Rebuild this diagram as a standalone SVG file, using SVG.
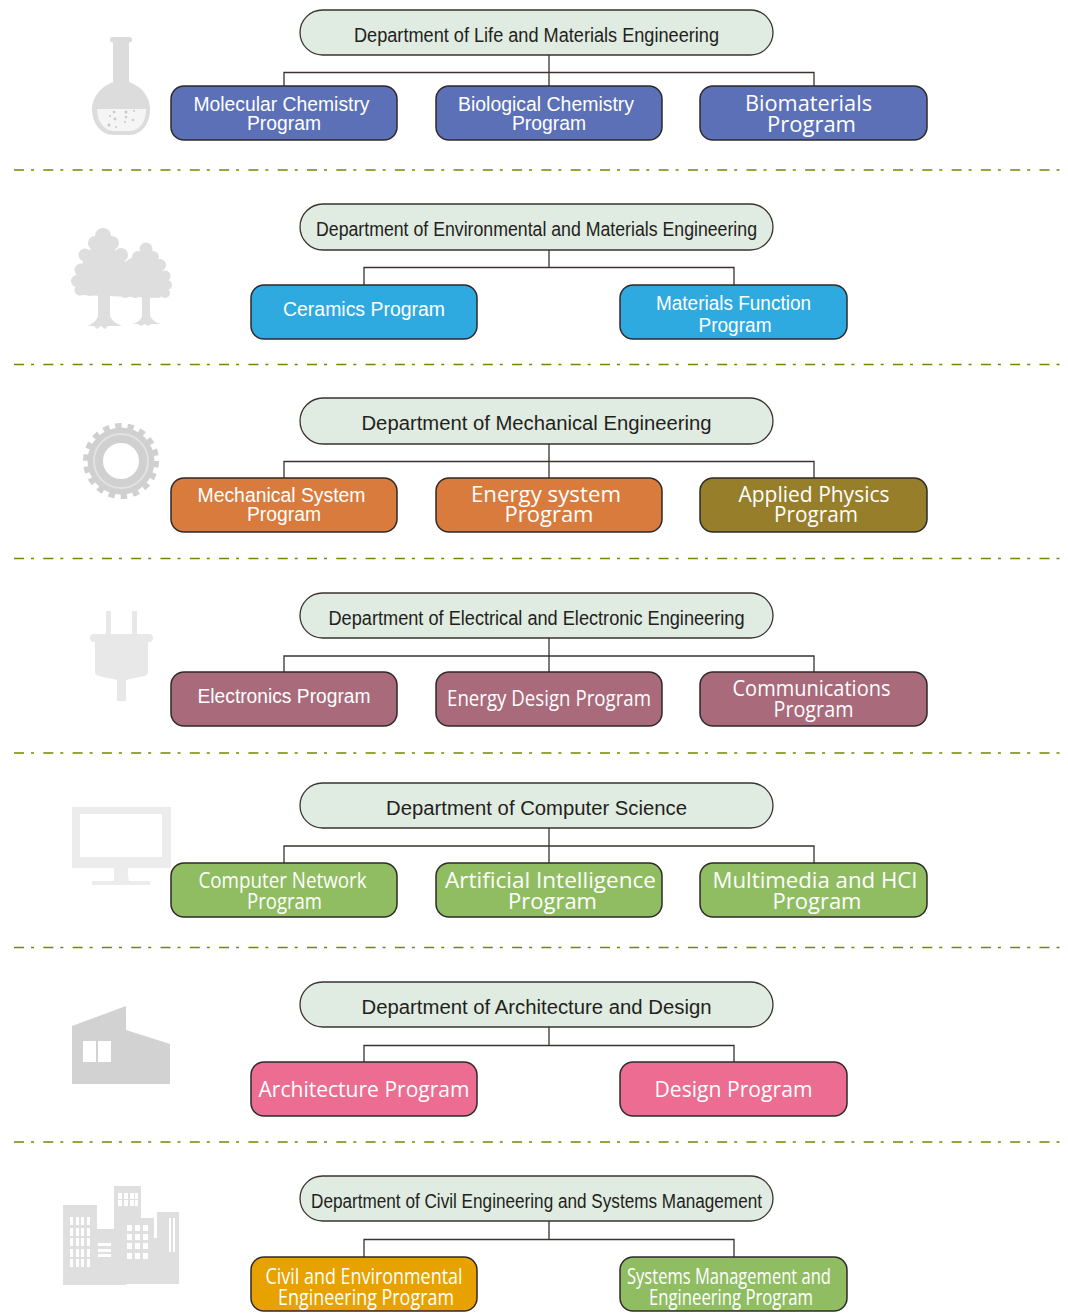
<svg xmlns="http://www.w3.org/2000/svg" width="1068" height="1314" viewBox="0 0 1068 1314">
<style>
text{font-family:"Liberation Sans",Arial,sans-serif;text-anchor:middle}
.d rect{fill:#e0ebe1;stroke:#3a3330;stroke-width:1.3}
.d text{font-size:20px;fill:#231f20}
.p rect{stroke:#2e2a2b;stroke-width:1.5}
.p text{font-size:20px;fill:#fff}
.p text.w{font-family:"Open Sans","Liberation Sans",sans-serif;font-size:22px}
.c path{fill:none;stroke:#3a3330;stroke-width:1.3}
.s line{stroke:#6f8a00;stroke-width:1.3;stroke-dasharray:10 7 3 9.3}
</style>
<rect width="1068" height="1314" fill="#fff"/>
<g class="s" id="separators">
<line x1="14" x2="1064" y1="170" y2="170"/><line x1="14" x2="1064" y1="364.500" y2="364.500"/><line x1="14" x2="1064" y1="558.500" y2="558.500"/><line x1="14" x2="1064" y1="753" y2="753"/><line x1="14" x2="1064" y1="947.500" y2="947.500"/><line x1="14" x2="1064" y1="1142" y2="1142"/>
</g>
<g class="c" id="connectors">
<path d="M549 55V86M284 86V72.500H814V86"/>
<path d="M549 250V267.500M364 285V267.500H734V285"/>
<path d="M549 444V478M284 478V461.500H814V478"/>
<path d="M549 638V672M284 672V656H814V672"/>
<path d="M549 828V863M284 863V846H814V863"/>
<path d="M549 1027V1045.500M364 1062V1045.500H734V1062"/>
<path d="M549 1221V1239.500M364 1257V1239.500H734V1257"/>
</g>
<g id="icon-flask" fill="#dcdcdc">
<rect x="110" y="37" width="22" height="5.500" rx="2.500"/>
<path d="M113 41H129V82C143 87 150 98 150 109C150 122 143 135 129 135H114C100 135 92 122 92 109C92 98 100 87 113 82Z"/>
<path d="M97 109H146C146 120 141 131 129 131H114C103 131 97 120 97 109Z" fill="#f5f5f5"/>
<g fill="#c8c8c8"><circle cx="114" cy="112" r="1.300"/><circle cx="110" cy="116" r="1"/><circle cx="115" cy="119" r="1.400"/><circle cx="109" cy="125" r="1.500"/><circle cx="126" cy="112" r="1.500"/><circle cx="134" cy="111" r="1"/><circle cx="126" cy="117" r="1.200"/><circle cx="125" cy="122" r="1"/><circle cx="133" cy="120" r="1.200"/><circle cx="116" cy="127" r="1"/></g>
</g>
<g id="icon-trees" fill="#dedede">
<path d="M98 292H110V316C112 321 117 324 122 326L108 326L105 329L101 326L97 329L94 326H87C93 324 97 320 98 316Z"/>
<path d="M142 295H150V316C152 320 156 323 161 324L151 324L148 326L145 324L141 326L138 324H132C137 323 141 320 142 316Z"/>
<path d="M103 235L85 255L77 281L80 295L160 298L167 285L160 265L146 248L125 262Z"/>
<circle cx="103" cy="236" r="8"/><circle cx="95" cy="243" r="7"/><circle cx="112" cy="243" r="7"/><circle cx="85" cy="255" r="6.500"/><circle cx="121" cy="255" r="7"/><circle cx="81" cy="270" r="6.500"/><circle cx="77" cy="281" r="6"/><circle cx="80" cy="290" r="5.500"/><circle cx="90" cy="292" r="4"/><circle cx="100" cy="292" r="4"/><circle cx="115" cy="292" r="4"/>
<circle cx="146" cy="249" r="6.500"/><circle cx="138" cy="257" r="6"/><circle cx="153" cy="257" r="6"/><circle cx="160" cy="265" r="6"/><circle cx="165" cy="276" r="5.500"/><circle cx="167" cy="285" r="5"/><circle cx="165" cy="293" r="5"/><circle cx="125" cy="294" r="4"/><circle cx="135" cy="294" r="4"/><circle cx="150" cy="294" r="4"/>
</g>
<g id="icon-gear">
<circle cx="121" cy="461" r="33.500" fill="#d1d0d1"/>
<circle cx="121" cy="461" r="35.500" fill="none" stroke="#d1d0d1" stroke-width="5" stroke-dasharray="6.400 6"/>
<circle cx="121" cy="461" r="27" fill="none" stroke="#e2e2e2" stroke-width="2"/>
<circle cx="121" cy="461" r="18" fill="#fff"/>
</g>
<g id="icon-plug" fill="#e8e8e8">
<rect x="106" y="611" width="5" height="24"/><rect x="132" y="611" width="5" height="24"/>
<rect x="90" y="634" width="63" height="8" rx="4"/>
<path d="M95 641H148V672Q148 675 144 676L126 680V701H117V680L99 676Q95 675 95 672Z"/>
</g>
<g id="icon-monitor" fill="#ececec">
<path fill-rule="evenodd" d="M72 807H171V868H72ZM80 814V857H162V814Z"/>
<path d="M114 868H128Q127 874 129 881H114Z"/><rect x="92" y="881" width="58" height="4"/>
</g>
<g id="icon-house">
<path d="M72 1026L126 1006V1030L170 1044V1084H72Z" fill="#d3d2d3"/>
<rect x="83" y="1041" width="13" height="21" fill="#fff"/><rect x="98" y="1041" width="13" height="21" fill="#fff"/>
</g>
<g id="icon-city" fill="#dfdfdf">
<path d="M63 1205H97V1229H114V1186H141V1218H154V1238H157V1212H179V1284H126V1285H63Z"/>
<g fill="#fff" id="city-windows">
<path d="M70 1217h3v8h-3zM76 1217h3v8h-3zM81 1217h3v8h-3zM87 1217h3v8h-3zM70 1228h3v8h-3zM76 1228h3v8h-3zM81 1228h3v8h-3zM87 1228h3v8h-3zM70 1238h3v8h-3zM76 1238h3v8h-3zM81 1238h3v8h-3zM87 1238h3v8h-3zM70 1249h3v8h-3zM76 1249h3v8h-3zM81 1249h3v8h-3zM87 1249h3v8h-3zM70 1259h3v8h-3zM76 1259h3v8h-3zM81 1259h3v8h-3zM87 1259h3v8h-3z"/>
<path d="M98 1243h13v3h-13zM98 1249h13v3h-13zM98 1254h13v3h-13z"/>
<path d="M118 1193h4v6h-4zM124 1193h4v6h-4zM130 1193h4v6h-4zM135 1193h3v6h-3zM118 1200h4v6h-4zM124 1200h4v6h-4zM130 1200h4v6h-4zM135 1200h3v6h-3z"/>
<path d="M127 1225h5v6h-5zM135 1225h5v6h-5zM143 1225h5v6h-5zM127 1234h5v6h-5zM135 1234h5v6h-5zM143 1234h5v6h-5zM127 1243h5v6h-5zM135 1243h5v6h-5zM143 1243h5v6h-5zM127 1253h5v6h-5zM135 1253h5v6h-5zM143 1253h5v6h-5z"/>
<path d="M169 1218h2v34h-2zM173 1218h2v34h-2z"/>
</g>
</g>

<g id="dept-life" class="d"><rect x="300" y="10" width="473" height="45" rx="22.500"/><text x="536.500" y="42" textLength="365" lengthAdjust="spacingAndGlyphs">Department of Life and Materials Engineering</text></g>
<g id="prog-molecular" class="p"><rect x="171" y="86" width="226" height="54" rx="13" fill="#5b70b7"/><text x="281.500" y="111" textLength="176" lengthAdjust="spacingAndGlyphs">Molecular Chemistry</text><text x="284" y="130" textLength="74" lengthAdjust="spacingAndGlyphs">Program</text></g>
<g id="prog-biological" class="p"><rect x="436" y="86" width="226" height="54" rx="13" fill="#5b70b7"/><text x="546" y="111" textLength="176" lengthAdjust="spacingAndGlyphs">Biological Chemistry</text><text x="549" y="130" textLength="74" lengthAdjust="spacingAndGlyphs">Program</text></g>
<g id="prog-biomaterials" class="p"><rect x="700" y="86" width="227" height="54" rx="13" fill="#5b70b7"/><text class="w" x="808.500" y="111" textLength="127" lengthAdjust="spacingAndGlyphs">Biomaterials</text><text class="w" x="811.500" y="132" textLength="89" lengthAdjust="spacingAndGlyphs">Program</text></g>

<g id="dept-env" class="d"><rect x="300" y="204" width="473" height="46" rx="23"/><text x="536.500" y="236" textLength="441" lengthAdjust="spacingAndGlyphs">Department of Environmental and Materials Engineering</text></g>
<g id="prog-ceramics" class="p"><rect x="251" y="285" width="226" height="54" rx="13" fill="#2eaae1"/><text x="364" y="316" textLength="162" lengthAdjust="spacingAndGlyphs">Ceramics Program</text></g>
<g id="prog-function" class="p"><rect x="620" y="285" width="227" height="54" rx="13" fill="#2eaae1"/><text x="733.500" y="310" textLength="155" lengthAdjust="spacingAndGlyphs">Materials Function</text><text x="735" y="332" textLength="73" lengthAdjust="spacingAndGlyphs">Program</text></g>

<g id="dept-mech" class="d"><rect x="300" y="398" width="473" height="46" rx="23"/><text x="536.500" y="430" textLength="350" lengthAdjust="spacingAndGlyphs">Department of Mechanical Engineering</text></g>
<g id="prog-mechsys" class="p"><rect x="171" y="478" width="226" height="54" rx="13" fill="#d97b3d"/><text x="281.500" y="502" textLength="168" lengthAdjust="spacingAndGlyphs">Mechanical System</text><text x="284" y="521" textLength="74" lengthAdjust="spacingAndGlyphs">Program</text></g>
<g id="prog-energysys" class="p"><rect x="436" y="478" width="226" height="54" rx="13" fill="#d97b3d"/><text class="w" x="546" y="502" textLength="150" lengthAdjust="spacingAndGlyphs">Energy system</text><text class="w" x="549" y="522" textLength="89" lengthAdjust="spacingAndGlyphs">Program</text></g>
<g id="prog-physics" class="p"><rect x="700" y="478" width="227" height="54" rx="13" fill="#967e2a"/><text class="w" x="814" y="502" textLength="151" lengthAdjust="spacingAndGlyphs">Applied Physics</text><text class="w" x="816" y="522" textLength="84" lengthAdjust="spacingAndGlyphs">Program</text></g>

<g id="dept-elec" class="d"><rect x="300" y="593" width="473" height="45" rx="22.500"/><text x="536.500" y="625" textLength="416" lengthAdjust="spacingAndGlyphs">Department of Electrical and Electronic Engineering</text></g>
<g id="prog-electronics" class="p"><rect x="171" y="672" width="226" height="54" rx="13" fill="#a96a7b"/><text x="284" y="703" textLength="173" lengthAdjust="spacingAndGlyphs">Electronics Program</text></g>
<g id="prog-energydesign" class="p"><rect x="436" y="672" width="226" height="54" rx="13" fill="#a96a7b"/><text x="549" y="706" textLength="204" lengthAdjust="spacingAndGlyphs" class="w">Energy Design Program</text></g>
<g id="prog-comm" class="p"><rect x="700" y="672" width="227" height="54" rx="13" fill="#a96a7b"/><text class="w" x="811.500" y="696" textLength="158" lengthAdjust="spacingAndGlyphs">Communications</text><text class="w" x="813.500" y="717" textLength="80" lengthAdjust="spacingAndGlyphs">Program</text></g>

<g id="dept-cs" class="d"><rect x="300" y="783" width="473" height="45" rx="22.500"/><text x="536.500" y="815" textLength="301" lengthAdjust="spacingAndGlyphs">Department of Computer Science</text></g>
<g id="prog-network" class="p"><rect x="171" y="863" width="226" height="54" rx="13" fill="#90bd62"/><text class="w" x="282.500" y="888" textLength="168" lengthAdjust="spacingAndGlyphs">Computer Network</text><text class="w" x="284.500" y="909" textLength="75" lengthAdjust="spacingAndGlyphs">Program</text></g>
<g id="prog-ai" class="p"><rect x="436" y="863" width="226" height="54" rx="13" fill="#90bd62"/><text class="w" x="550.500" y="888" textLength="211" lengthAdjust="spacingAndGlyphs">Artificial Intelligence</text><text class="w" x="552.500" y="909" textLength="89" lengthAdjust="spacingAndGlyphs">Program</text></g>
<g id="prog-hci" class="p"><rect x="700" y="863" width="227" height="54" rx="13" fill="#90bd62"/><text class="w" x="815" y="888" textLength="205" lengthAdjust="spacingAndGlyphs">Multimedia and HCI</text><text class="w" x="817" y="909" textLength="89" lengthAdjust="spacingAndGlyphs">Program</text></g>

<g id="dept-arch" class="d"><rect x="300" y="982" width="473" height="45" rx="22.500"/><text x="536.500" y="1014" textLength="350" lengthAdjust="spacingAndGlyphs">Department of Architecture and Design</text></g>
<g id="prog-architecture" class="p"><rect x="251" y="1062" width="226" height="54" rx="13" fill="#ec6d91"/><text class="w" x="364" y="1097" textLength="211" lengthAdjust="spacingAndGlyphs">Architecture Program</text></g>
<g id="prog-design" class="p"><rect x="620" y="1062" width="227" height="54" rx="13" fill="#ec6d91"/><text class="w" x="733.500" y="1097" textLength="158" lengthAdjust="spacingAndGlyphs">Design Program</text></g>

<g id="dept-civil" class="d"><rect x="300" y="1176" width="473" height="45" rx="22.500"/><text x="536.500" y="1208" textLength="451" lengthAdjust="spacingAndGlyphs">Department of Civil Engineering and Systems Management</text></g>
<g id="prog-civil" class="p"><rect x="251" y="1257" width="226" height="54" rx="13" fill="#e8a200"/><text class="w" x="364" y="1284" textLength="197" lengthAdjust="spacingAndGlyphs">Civil and Environmental</text><text class="w" x="366" y="1305" textLength="176" lengthAdjust="spacingAndGlyphs">Engineering Program</text></g>
<g id="prog-systems" class="p"><rect x="620" y="1257" width="227" height="54" rx="13" fill="#90bd62"/><text class="w" x="729" y="1284" textLength="204" lengthAdjust="spacingAndGlyphs">Systems Management and</text><text class="w" x="731" y="1305" textLength="164" lengthAdjust="spacingAndGlyphs">Engineering Program</text></g>
</svg>
